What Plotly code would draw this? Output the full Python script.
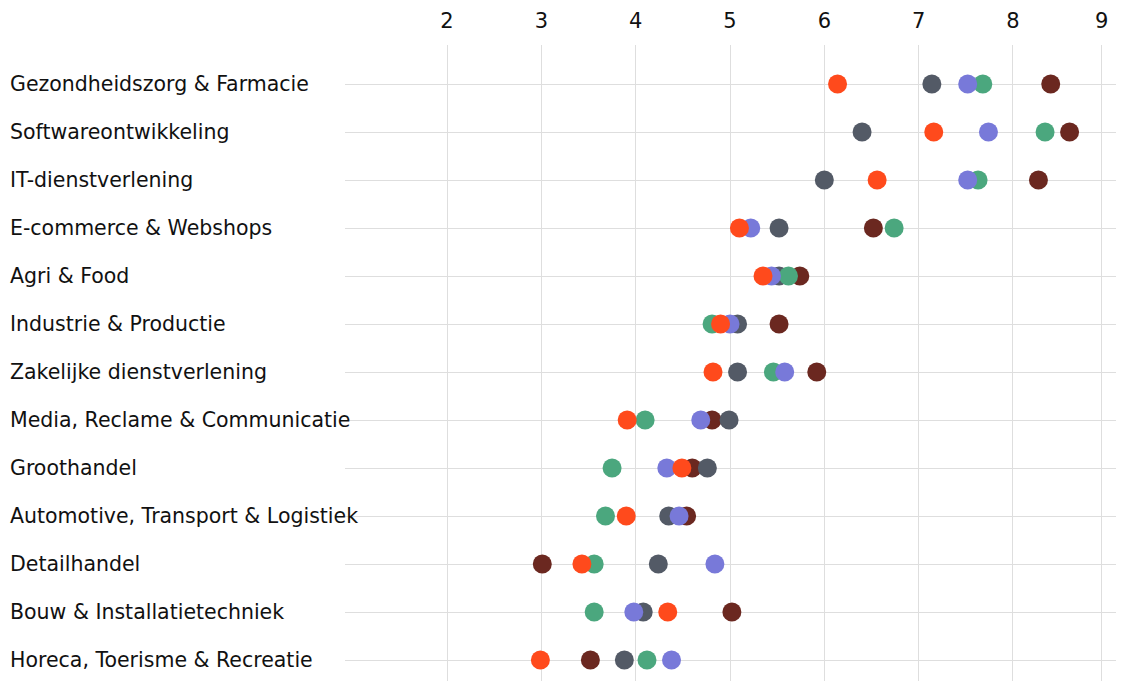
import plotly.graph_objects as go

categories = [
    "Gezondheidszorg & Farmacie",
    "Softwareontwikkeling",
    "IT-dienstverlening",
    "E-commerce & Webshops",
    "Agri & Food",
    "Industrie & Productie",
    "Zakelijke dienstverlening",
    "Media, Reclame & Communicatie",
    "Groothandel",
    "Automotive, Transport & Logistiek",
    "Detailhandel",
    "Bouw & Installatietechniek",
    "Horeca, Toerisme & Recreatie",
]

# five series (drawn bottom to top)
series_maroon = [8.40, 8.60, 8.27, 6.52, 5.74, 5.52, 5.92, 4.81, 4.60, 4.54, 3.01, 5.02, 3.52]
series_gray   = [7.14, 6.40, 6.00, 5.52, 5.52, 5.08, 5.08, 4.99, 4.76, 4.35, 4.24, 4.08, 3.88]
series_green  = [7.68, 8.34, 7.63, 6.74, 5.62, 4.81, 5.46, 4.10, 3.75, 3.68, 3.56, 3.56, 4.12]
series_purple = [7.52, 7.74, 7.52, 5.22, 5.44, 5.00, 5.58, 4.69, 4.33, 4.46, 4.84, 3.98, 4.38]
series_orange = [6.14, 7.16, 6.56, 5.10, 5.35, 4.90, 4.82, 3.91, 4.49, 3.90, 3.43, 4.34, 2.99]

series_names = ["Reeks 1", "Reeks 2", "Reeks 3", "Reeks 4", "Reeks 5"]
series_values = [series_maroon, series_gray, series_green, series_purple, series_orange]
series_colors = ["#6B2820", "#535A66", "#4BA77E", "#7879D9", "#FF4A1C"]

tick_vals = [2, 3, 4, 5, 6, 7, 8, 8.94]
tick_text = ["2", "3", "4", "5", "6", "7", "8", "9"]

fig = go.Figure()
for name, vals, col in zip(series_names, series_values, series_colors):
    fig.add_trace(go.Scatter(
        x=vals, y=categories, mode="markers", name=name,
        marker=dict(size=19, color=col, line=dict(width=0)),
    ))

# page has an 8px body margin
L, R, T, B = 337, 0, 37, 0
W, H = 1124, 681
pw = W - L - R

for c in categories:
    fig.add_annotation(
        x=(0 - L) / pw, xref="paper", y=c, yref="y",
        text=c, showarrow=False, xanchor="left", yanchor="middle",
        font=dict(family="DejaVu Sans", size=20.5, color="#111111"),
    )

fig.update_layout(
    width=W, height=H,
    margin=dict(l=L, r=R, t=T, b=B),
    plot_bgcolor="white", paper_bgcolor="white",
    showlegend=False,
    font=dict(family="DejaVu Sans", color="#111111"),
)
fig.update_xaxes(
    side="top", range=[0.9185, 9.2617],
    tickvals=tick_vals, ticktext=tick_text,
    tickfont=dict(family="DejaVu Sans", size=21, color="#111111"),
    showgrid=True, gridcolor="#dedede", gridwidth=1,
    zeroline=False, showline=False, ticks="", ticklabelstandoff=12,
)
fig.update_yaxes(
    type="category", categoryorder="array", categoryarray=categories,
    range=[12.604, -0.8125],
    showticklabels=False, showgrid=True, gridcolor="#dedede", gridwidth=1,
    zeroline=False, showline=False, ticks="",
)

fig.write_html("out.html")
